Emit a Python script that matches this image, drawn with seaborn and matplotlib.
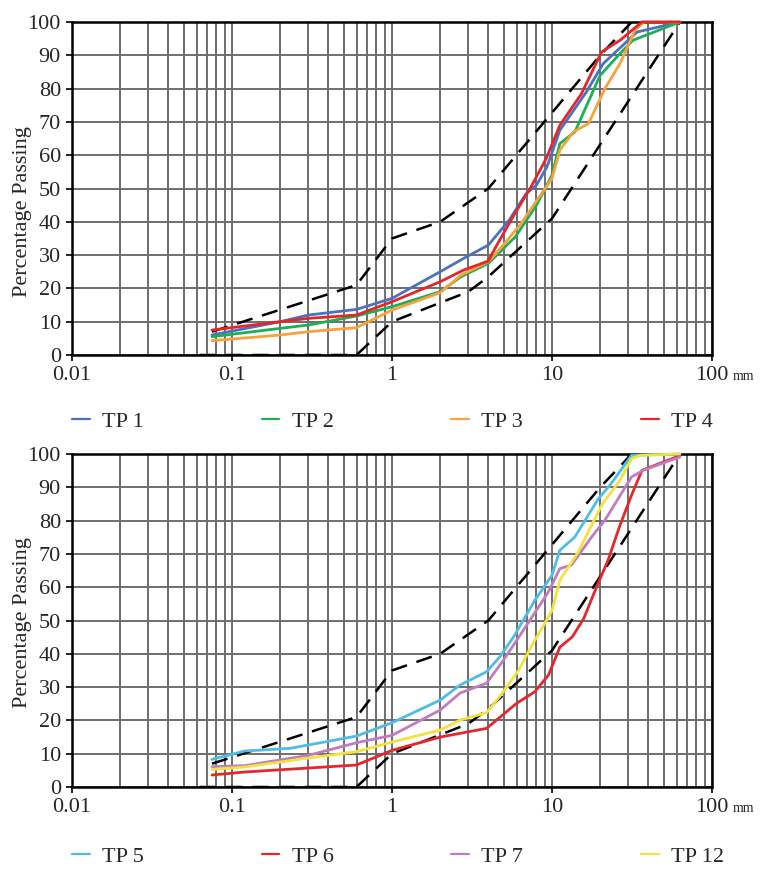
import numpy as np
import pandas as pd
import matplotlib
matplotlib.use("Agg")
import matplotlib.pyplot as plt
import matplotlib.ticker as mticker
from matplotlib.lines import Line2D
import seaborn as sns

# grading curves (sieve size mm, % passing)
tp1_size = [0.075, 0.2, 0.3, 0.6, 1, 2, 2.8, 4, 5.4, 6.9, 8, 9.3, 11.2, 16.4, 20.9, 34, 63]
tp1_pct = [6, 10, 12, 13.7, 17, 25, 29, 33, 40.5, 48.5, 51, 56.5, 67.5, 79, 87.5, 97, 100]

tp2_size = [0.075, 0.2, 0.3, 0.6, 1, 2, 2.7, 4, 5.9, 8, 10, 11.2, 13.9, 20, 26.6, 32, 63]
tp2_pct = [5.5, 8, 9, 11.7, 14.5, 19, 23.5, 27.5, 35.5, 45, 54, 63.5, 67, 84, 90.5, 94.5, 100]

tp3_size = [0.075, 0.2, 0.3, 0.6, 1, 2, 2.7, 4, 4.85, 6.3, 7.8, 10, 11.2, 13.6, 16.9, 21.4, 26.6, 33, 37.5, 63]
tp3_pct = [4.3, 6, 7, 8.2, 13.5, 18.7, 24, 28, 32.5, 39, 45.5, 53, 61.5, 67, 69.5, 80, 87.5, 97.5, 100, 100]

tp4_size = [0.075, 0.2, 0.3, 0.6, 1, 2, 2.8, 4, 4.4, 5.7, 7.4, 9.2, 11.2, 15.3, 20.4, 26.6, 36.5, 63]
tp4_pct = [7.5, 10, 11, 12, 16, 22, 25.5, 28.2, 32, 41.5, 50.5, 59, 69, 78.5, 91, 94.5, 100, 100]

tp5_size = [0.075, 0.12, 0.23, 0.6, 1, 2, 2.66, 3.9, 4.7, 5.74, 6.6, 7.8, 10, 11.2, 13.9, 19.5, 23, 31.4, 63]
tp5_pct = [8.3, 10.8, 11.6, 15.3, 19.3, 26.1, 30.6, 34.6, 39, 45, 50, 56, 63.6, 71.1, 75.1, 86.6, 90.6, 99.6, 100]

tp6_size = [0.075, 0.12, 0.6, 1, 2, 3.9, 6, 7.8, 9.5, 11.2, 13.4, 15.8, 19, 22.4, 26.6, 31.4, 36.5, 63]
tp6_pct = [3.6, 4.5, 6.6, 11, 15, 17.6, 25.1, 28.6, 33.6, 42, 45.1, 50.6, 60.1, 68.1, 78.6, 87.6, 95.1, 99.5]

tp7_size = [0.075, 0.12, 0.3, 0.6, 1, 2, 2.66, 3.9, 4.96, 6.3, 9.5, 11.2, 13.2, 17.7, 21.4, 31.4, 37.2, 63]
tp7_pct = [6.1, 6.4, 9.5, 13.3, 15.5, 23.1, 28.2, 31.2, 38, 45.5, 58.6, 65.6, 66.6, 75.1, 80.1, 93.1, 95.1, 99.1]

tp12_size = [0.075, 0.12, 0.3, 0.6, 1, 2, 2.66, 3.9, 4.7, 6.2, 7.6, 9.26, 10, 11.2, 14.6, 18.1, 20.4, 26.6, 31.4, 35.6, 63]
tp12_pct = [5.3, 6, 8.7, 10.6, 13.5, 17.1, 20.1, 22.3, 27.1, 35.1, 43.1, 50.1, 53, 62.1, 70.6, 79.6, 84.6, 92.1, 98.6, 99.6, 100]

# grading envelope (dashed)
upper_size = [0.075, 0.6, 1, 2, 4, 20, 31.5]
upper_pct = [7, 21, 35, 40, 50, 90, 100]
lower_size = [0.063, 0.6, 1, 3, 4, 10, 63]
lower_pct = [0, 0, 10, 19, 23.5, 41, 100]

top_names = ["TP 1", "TP 2", "TP 3", "TP 4"]
top_colors = ["#4A72C0", "#1DAF54", "#F7A23A", "#E2262B"]
bottom_names = ["TP 5", "TP 6", "TP 7", "TP 12"]
bottom_colors = ["#4DBDE6", "#E5262B", "#C07CBE", "#F3E23E"]


def long_table(names, sizes, pcts):
    frames = []
    for n, s, p in zip(names, sizes, pcts):
        frames.append(pd.DataFrame({"size": s, "pct": p, "sample": n}))
    return pd.concat(frames, ignore_index=True)


top_df = long_table(top_names, [tp1_size, tp2_size, tp3_size, tp4_size],
                    [tp1_pct, tp2_pct, tp3_pct, tp4_pct])
bottom_df = long_table(bottom_names, [tp5_size, tp6_size, tp7_size, tp12_size],
                       [tp5_pct, tp6_pct, tp7_pct, tp12_pct])

sns.set_style("white")
plt.rcParams["font.family"] = ["Liberation Serif", "DejaVu Serif"]

fig = plt.figure(figsize=(7.62, 8.73), dpi=100)
ax1 = fig.add_axes([72 / 762, 1 - 355 / 873, 640 / 762, 333 / 873])
ax2 = fig.add_axes([72 / 762, 1 - 787 / 873, 640 / 762, 333 / 873])


def draw_panel(ax, df, names, colors, label_y, legend_y):
    ax.set_xscale("log")
    ax.set_xlim(0.01, 100)
    ax.set_ylim(0, 100)
    ax.set_axisbelow(True)

    # envelope
    ax.plot(upper_size, upper_pct, color="black", lw=1.8, dashes=(6.5, 4), zorder=2.2)
    ax.plot(lower_size, lower_pct, color="black", lw=1.8, dashes=(6.5, 4), zorder=2.2)

    sns.lineplot(data=df, x="size", y="pct", hue="sample", hue_order=names,
                 palette=colors, sort=False, estimator=None, lw=2.0,
                 legend=False, ax=ax)
    for ln in ax.lines[2:]:
        ln.set_zorder(3)
        ln.set_clip_on(False)

    ax.xaxis.set_major_locator(mticker.LogLocator(base=10, numticks=10))
    ax.xaxis.set_minor_locator(mticker.LogLocator(base=10, subs=np.arange(2, 10), numticks=20))
    ax.xaxis.set_major_formatter(mticker.FuncFormatter(lambda v, p: "%g" % v))
    ax.xaxis.set_minor_formatter(mticker.NullFormatter())
    ax.set_yticks(np.arange(0, 101, 10))

    ax.grid(which="both", axis="x", color="#6E6E6E", lw=1.4)
    ax.grid(which="major", axis="y", color="#6E6E6E", lw=1.4)
    for sp in ax.spines.values():
        sp.set_color("black")
        sp.set_linewidth(1.8)

    ax.tick_params(which="major", direction="out", length=4, width=1.2,
                   color="black", labelsize=16, pad=4, bottom=True, left=True)
    ax.tick_params(which="minor", length=0)

    ax.set_xlabel("")
    ax.set_ylabel("Percentage Passing", fontsize=16)
    ax.yaxis.set_label_coords(-40 / 640, label_y)

    ax.text((733 - 72) / 640, -25 / 333, "mm", transform=ax.transAxes,
            fontsize=10, va="baseline", ha="left")

    handles = [Line2D([], [], color=c, lw=1.6) for c in colors]
    leg = ax.legend(handles, names, loc="center left", bbox_to_anchor=(0, legend_y),
                    ncol=4, frameon=False, fontsize=16, handlelength=0.8,
                    handletextpad=0.55, columnspacing=5.3, borderpad=0,
                    borderaxespad=0)
    return leg


draw_panel(ax1, top_df, top_names, top_colors, 0.432, -0.2)
draw_panel(ax2, bottom_df, bottom_names, bottom_colors, 0.494, -0.21)

fig.savefig("out.png", dpi=100)
